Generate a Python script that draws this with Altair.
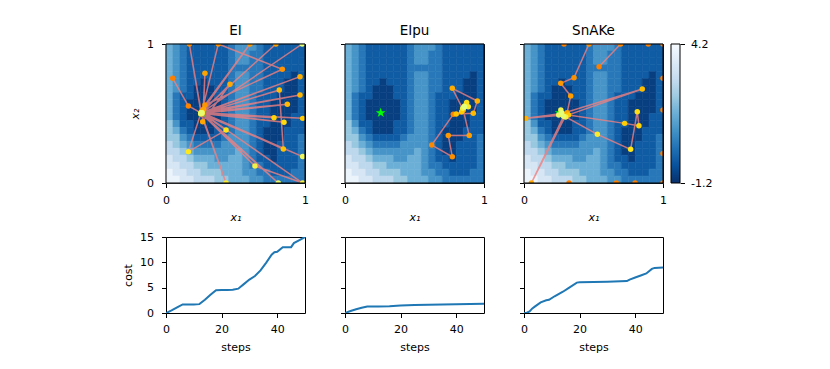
import altair as alt
import pandas as pd

FONT = "DejaVu Sans"

# background field: contour band index (0 = lowest level), rows from x2=1 (top) down to x2=0
FIELD_ROWS = [
    "43211111123332111111",
    "43211111123322111111",
    "43211111123322111111",
    "43211111122222111111",
    "43211111123322111101",
    "43211011123322111001",
    "43210001123322111001",
    "42110001123321110001",
    "42100000123321100001",
    "42100000123321100001",
    "42100000123321100011",
    "53110001123321100011",
    "54210001123321000111",
    "55321111233321000112",
    "65432222333321001112",
    "66543333334321001112",
    "76654443344321101112",
    "77665544444322111112",
    "87766555444332211122",
    "88776665544433222222",
]
BAND_COLORS = ["#083f81", "#105ca4", "#2878b9", "#4795c8", "#6baed6",
               "#98c7e0", "#bdd7ec", "#d6e6f4", "#ecf4fb"]
CB_MIN, CB_MAX = -1.2, 4.2
CB_STOPS = ["#08306b", "#08519c", "#2171b5", "#4292c6", "#6baed6",
            "#9ecae1", "#c6dbef", "#deebf7", "#f7fbff"]
ORDER_COLORS = ["#fc7f00", "#ffa000", "#ffbd00", "#ffe81a", "#e4ff7a"]

STAR_X1, STAR_X2 = 0.257, 0.505

EI_X1 = [0.048, 0.161, 0.252, 0.168, 0.255, 0.376, 0.837, 0.280, 0.604, 0.260,
         0.791, 0.270, 0.280, 0.264, 0.460, 0.255, 0.964, 0.250, 0.964, 0.260,
         0.873, 0.255, 0.815, 0.844, 0.258, 0.983, 0.250, 0.777, 0.260, 0.849,
         0.255, 0.432, 0.161, 0.250, 0.432, 0.255, 0.640, 0.983, 0.260, 0.983,
         0.250, 0.808, 0.255, 0.980]
EI_X2 = [0.753, 0.554, 0.505, 1.000, 0.500, 1.000, 0.818, 0.561, 1.000, 0.520,
         1.000, 0.530, 0.789, 0.441, 0.710, 0.505, 0.765, 0.500, 0.633, 0.510,
         0.566, 0.500, 0.669, 0.245, 0.505, 0.465, 0.500, 0.470, 0.500, 0.437,
         0.505, 0.381, 0.225, 0.500, 0.000, 0.500, 0.122, 0.000, 0.505, 0.190,
         0.500, 0.000, 0.505, 1.000]

EIPU_X1 = [0.779, 0.624, 0.772, 0.743, 0.894, 0.851, 0.772, 0.952, 0.923, 0.800,
           0.839, 0.863, 0.875, 0.887, 0.847, 0.856, 0.860, 0.858]
EIPU_X2 = [0.494, 0.273, 0.189, 0.341, 0.341, 0.525, 0.681, 0.590, 0.501, 0.497,
           0.513, 0.556, 0.580, 0.549, 0.537, 0.545, 0.550, 0.548]

SNAKE_X1 = [0.540, 0.695, 0.468, 0.360, 0.264, 0.336, 0.310, 0.053, 0.290, 0.012,
            0.275, 0.851, 0.320, 0.724, 0.827, 0.815, 0.767, 0.528, 0.300, 0.265,
            0.250, 0.285, 0.270]
SNAKE_X2 = [0.837, 1.000, 1.000, 0.758, 0.717, 0.626, 0.505, 0.000, 0.490, 0.465,
            0.500, 0.676, 0.490, 0.429, 0.412, 0.513, 0.242, 0.350, 0.475, 0.525,
            0.490, 0.480, 0.505]
SNAKE_EXTRA_X1 = [0.288, 0.894, 1.000, 0.324, 0.664, 0.799, 1.000, 1.000, 1.000, 1.000]
SNAKE_EXTRA_X2 = [1.000, 1.000, 1.000, 0.000, 0.000, 0.000, 0.000, 0.753, 0.525, 0.213]

EI_STEPS = [0, 2, 4, 6, 8, 10, 12, 14, 16, 18, 20, 22, 24, 26, 28, 30, 32, 34, 36, 38,
            39, 40, 42, 44, 45, 46, 48, 50]
EI_COST = [0, 0.5, 1.1, 1.7, 1.7, 1.7, 1.75, 2.6, 3.6, 4.5, 4.55, 4.55, 4.6, 4.8, 5.7,
           6.6, 7.3, 8.4, 9.9, 11.5, 12.0, 12.1, 13.0, 13.0, 13.0, 13.8, 14.4, 15.0]
EIPU_STEPS = [0, 2, 4, 6, 8, 12, 16, 20, 25, 30, 35, 40, 45, 50]
EIPU_COST = [0, 0.4, 0.75, 1.05, 1.3, 1.3, 1.35, 1.5, 1.6, 1.65, 1.7, 1.75, 1.8, 1.85]
SNAKE_STEPS = [0, 1, 2, 3, 4, 6, 8, 9, 11, 14, 16, 19, 20, 25, 30, 37, 38, 40, 42, 44,
               46, 47, 50]
SNAKE_COST = [0, 0.05, 0.3, 0.9, 1.3, 2.1, 2.5, 2.6, 3.3, 4.2, 4.9, 6.0, 6.05, 6.1,
              6.15, 6.3, 6.6, 7.0, 7.4, 7.8, 8.7, 8.9, 9.0]

TITLES = ["EI", "EIpu", "SnAKe"]

STAR = ("M0,-1L0.2245,-0.309L0.951,-0.309L0.363,0.118L0.588,0.809L0,0.382"
        "L-0.588,0.809L-0.363,0.118L-0.951,-0.309L-0.2245,-0.309Z")

# ---------- build tables ----------
n = len(FIELD_ROWS)
cells = []
for r, s in enumerate(FIELD_ROWS):
    for c, ch in enumerate(s):
        cells.append({"a0": c / n, "a1": (c + 1) / n,
                      "b0": 1 - (r + 1) / n, "b1": 1 - r / n, "band": int(ch)})
field_df = pd.DataFrame(cells)

PW, PH, BH = 139, 139, 76
CB_GAP, CB_W = 8, 9
TICK = 4.5
TITLE_SIZE = 13.5
unit = alt.Scale(domain=[0, 1], nice=False, zero=False)
band_scale = alt.Scale(domain=list(range(len(BAND_COLORS))), range=BAND_COLORS)


def top_panel(title, xs, ys, ex_x=None, ex_y=None, first=False, colorbar=False):
    xaxis = alt.Axis(values=[0, 1], format="d", title="x₁", titleFontStyle="italic",
                     titlePadding=6, labelFlush=False, labelPadding=6.5)
    if first:
        yaxis = alt.Axis(values=[0, 1], format="d", title="x₂", titleFontStyle="italic",
                         titlePadding=6, labelPadding=8)
    else:
        yaxis = alt.Axis(values=[0, 1], labels=False, title=None)

    def X(f):
        return alt.X(f, type="quantitative", scale=unit, axis=xaxis)

    def Y(f):
        return alt.Y(f, type="quantitative", scale=unit, axis=yaxis)

    field = alt.Chart(field_df).mark_rect(strokeWidth=0.6).encode(
        x=X("a0"), x2="a1", y=Y("b0"), y2="b1",
        color=alt.Color("band:O", scale=band_scale, legend=None),
        stroke=alt.Stroke("band:O", scale=band_scale, legend=None),
    )
    path = pd.DataFrame({"x1": xs, "x2": ys, "step": list(range(len(xs)))})
    m = len(xs) - 1
    line = alt.Chart(path).mark_line(color="#f08080", opacity=0.8,
                                      strokeWidth=1.5, clip=True).encode(
        x=X("x1"), y=Y("x2"), order="step:Q")
    pts = alt.Chart(path).mark_circle(size=30, opacity=1, clip=True).encode(
        x=X("x1"), y=Y("x2"),
        color=alt.Color("step:Q", legend=None,
                        scale=alt.Scale(domain=[0, m * 0.25, m * 0.5, m * 0.75, m],
                                        range=ORDER_COLORS)))
    star = alt.Chart(pd.DataFrame({"x1": [STAR_X1], "x2": [STAR_X2]})).mark_point(
        shape=STAR, filled=True, color="#00ff00", size=110, opacity=1).encode(
        x=X("x1"), y=Y("x2"))
    frame = alt.Chart(pd.DataFrame({"k": [0]})).mark_rect(
        fillOpacity=0, stroke="black", strokeWidth=1).encode(
        x=alt.X(datum=0, scale=unit, axis=xaxis), x2=alt.X2(datum=1),
        y=alt.Y(datum=0, scale=unit, axis=yaxis), y2=alt.Y2(datum=1))
    head = alt.Chart(pd.DataFrame({"t": [title]})).mark_text(
        font=FONT, fontSize=TITLE_SIZE, baseline="alphabetic", align="center",
        color="black").encode(text="t:N", x=alt.value(PW / 2), y=alt.value(-9))
    layers = [field, line]
    if ex_x is not None:
        extra = alt.Chart(pd.DataFrame({"x1": ex_x, "x2": ex_y})).mark_circle(
            size=30, opacity=1, clip=True, color=ORDER_COLORS[0]).encode(
            x=X("x1"), y=Y("x2"))
        layers.append(extra)
    layers += [star, pts, frame, head]
    main = alt.layer(*layers).resolve_scale(color="independent", stroke="independent")
    if colorbar:
        gradient = {
            "gradient": "linear", "x1": 0, "x2": 0, "y1": 1, "y2": 0,
            "stops": [{"offset": i / (len(CB_STOPS) - 1), "color": c}
                      for i, c in enumerate(CB_STOPS)],
        }
        cb = alt.Chart(pd.DataFrame({"lo": [CB_MIN], "hi": [CB_MAX]})).mark_rect(
            color=gradient, stroke="black", strokeWidth=1).encode(
            x=alt.value(PW + CB_GAP), x2=alt.value(PW + CB_GAP + CB_W),
            y=alt.Y("lo:Q", scale=alt.Scale(domain=[CB_MIN, CB_MAX], nice=False, zero=False),
                    axis=alt.Axis(orient="right", values=[CB_MIN, CB_MAX], title=None,
                                  offset=CB_GAP + CB_W, labelPadding=6,
                                  labelExpr="datum.value < 0 ? '-' + format(-datum.value, '.1f') : format(datum.value, '.1f')")),
            y2="hi",
        )
        main = alt.layer(main, cb).resolve_scale(y="independent", color="independent",
                                                  stroke="independent")
    return main.properties(width=PW, height=PH)


def cost_panel(steps, cost, first=False):
    df = pd.DataFrame({"step": steps, "cost": cost})
    if first:
        yaxis = alt.Axis(values=[0, 5, 10, 15], title="cost", titlePadding=6, labelPadding=8)
    else:
        yaxis = alt.Axis(values=[0, 5, 10, 15], labels=False, title=None)
    return alt.Chart(df).mark_line(color="#1f77b4", strokeWidth=2, clip=True).encode(
        x=alt.X("step:Q", scale=alt.Scale(domain=[0, 50], nice=False),
                axis=alt.Axis(values=[0, 20, 40], title="steps", titlePadding=7,
                              labelFlush=False, labelPadding=5.5)),
        y=alt.Y("cost:Q", scale=alt.Scale(domain=[0, 15], nice=False), axis=yaxis),
    ).properties(width=PW, height=BH)


p1 = top_panel(TITLES[0], EI_X1, EI_X2, first=True)
p2 = top_panel(TITLES[1], EIPU_X1, EIPU_X2)
p3 = top_panel(TITLES[2], SNAKE_X1, SNAKE_X2, SNAKE_EXTRA_X1, SNAKE_EXTRA_X2, colorbar=True)

chart = alt.concat(
    p1, p2, p3,
    cost_panel(EI_STEPS, EI_COST, True),
    cost_panel(EIPU_STEPS, EIPU_COST),
    cost_panel(SNAKE_STEPS, SNAKE_COST),
    columns=3, spacing={"row": 54, "column": 40}, bounds="flush",
).properties(
    padding={"left": 114, "top": 15, "right": 10, "bottom": 10},
    background="white",
).configure_view(stroke="black", strokeWidth=1).configure_axis(
    labelFont=FONT, titleFont=FONT, labelFontSize=11, titleFontSize=11,
    labelColor="black", titleColor="black", tickColor="black", tickSize=TICK,
    tickWidth=1, grid=False, domain=False, titleFontWeight="normal",
)

chart.save("out.html", embed_options={"renderer": "svg", "actions": False})
